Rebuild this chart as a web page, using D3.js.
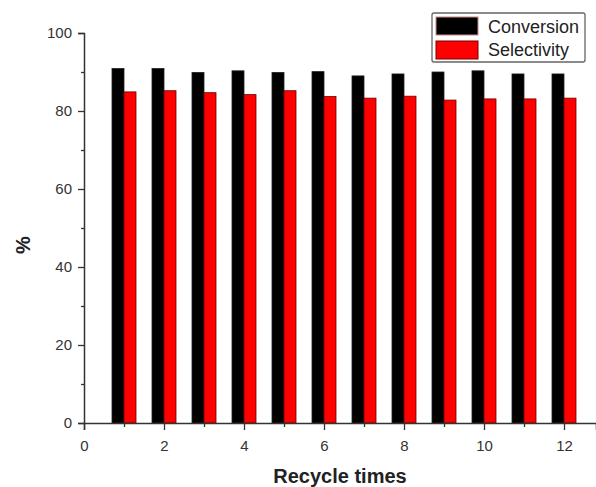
<!DOCTYPE html>
<html>
<head>
<meta charset="utf-8">
<script src="https://cdn.jsdelivr.net/npm/d3@7"></script>
<style>
  body { margin: 0; background: #fff; }
  text { font-family: "Liberation Sans", Arial, sans-serif; }
</style>
</head>
<body>
<div id="chart"></div>
<script>
var cycles = [1, 2, 3, 4, 5, 6, 7, 8, 9, 10, 11, 12];
var conversion = [90.9, 90.9, 89.9, 90.3, 89.9, 90.1, 89.0, 89.5, 90.0, 90.3, 89.5, 89.5];
var selectivity = [84.9, 85.2, 84.7, 84.2, 85.2, 83.7, 83.3, 83.8, 82.8, 83.1, 83.1, 83.3];
var xTicks = [0, 2, 4, 6, 8, 10, 12];
var yTicks = [0, 20, 40, 60, 80, 100];
var seriesNames = ["Conversion", "Selectivity"];

var width = 596, height = 487;
var axisColor = "#333";

var svg = d3.select("#chart").append("svg")
    .attr("width", width)
    .attr("height", height);

var x = d3.scaleLinear().domain([0, 12.8]).range([84, 596]);
var y = d3.scaleLinear().domain([0, 100]).range([423, 33]);

var barW = x(0.3) - x(0);

// bars
svg.append("g").selectAll("rect")
    .data(cycles)
  .enter().append("rect")
    .attr("x", function(d) { return x(d - 0.3); })
    .attr("y", function(d, i) { return y(conversion[i]); })
    .attr("width", barW)
    .attr("height", function(d, i) { return y(0) - y(conversion[i]); })
    .attr("fill", "#000")
    .attr("stroke", "#222")
    .attr("stroke-width", 0.8);

svg.append("g").selectAll("rect")
    .data(cycles)
  .enter().append("rect")
    .attr("x", function(d) { return x(d); })
    .attr("y", function(d, i) { return y(selectivity[i]); })
    .attr("width", barW)
    .attr("height", function(d, i) { return y(0) - y(selectivity[i]); })
    .attr("fill", "#ff0000")
    .attr("stroke", "#6a0000")
    .attr("stroke-width", 0.8);

// axes
svg.append("g")
    .attr("transform", "translate(0," + y(0) + ")")
    .call(d3.axisBottom(x).tickValues(xTicks).tickSize(7).tickPadding(10).tickFormat(d3.format("d")));
svg.append("g")
    .attr("transform", "translate(0," + y(0) + ")")
    .call(d3.axisBottom(x).tickValues(d3.range(1, 13, 2)).tickSize(4).tickFormat(""))
    .select(".domain").remove();

svg.append("g")
    .attr("transform", "translate(" + x(0) + ",0)")
    .call(d3.axisLeft(y).tickValues(yTicks).tickSize(6).tickPadding(6));
svg.append("g")
    .attr("transform", "translate(" + x(0) + ",0)")
    .call(d3.axisLeft(y).tickValues(d3.range(10, 100, 20)).tickSize(3).tickFormat(""))
    .select(".domain").remove();

svg.selectAll(".domain").attr("stroke", axisColor).attr("stroke-width", 1.5);
svg.selectAll(".tick line").attr("stroke", axisColor).attr("stroke-width", 1.3);
svg.selectAll(".tick text").attr("fill", "#333").style("font-size", "15px");

// axis titles
svg.append("text")
    .attr("x", 340).attr("y", 483)
    .attr("text-anchor", "middle")
    .style("font-size", "20px").style("font-weight", "bold")
    .attr("fill", "#222")
    .text("Recycle times");

svg.append("text")
    .attr("transform", "translate(30,245) rotate(-90)")
    .attr("text-anchor", "middle")
    .style("font-size", "20px").style("font-weight", "bold")
    .attr("fill", "#222")
    .text("%");

// legend
var legend = svg.append("g");
legend.append("rect")
    .attr("x", 432).attr("y", 13)
    .attr("width", 153).attr("height", 49)
    .attr("rx", 2)
    .attr("fill", "#fff")
    .attr("stroke", "#666").attr("stroke-width", 1.3);

var colors = ["#000", "#ff0000"];
seriesNames.forEach(function(name, i) {
  legend.append("rect")
      .attr("x", 436).attr("y", 17 + i * 24)
      .attr("width", 42).attr("height", 18)
      .attr("fill", colors[i])
      .attr("stroke", i === 0 ? "#c88" : "#700")
      .attr("stroke-width", 1);
  legend.append("text")
      .attr("x", 488).attr("y", 33 + i * 23)
      .style("font-size", "18px")
      .attr("fill", "#222")
      .text(name);
});
</script>
</body>
</html>
